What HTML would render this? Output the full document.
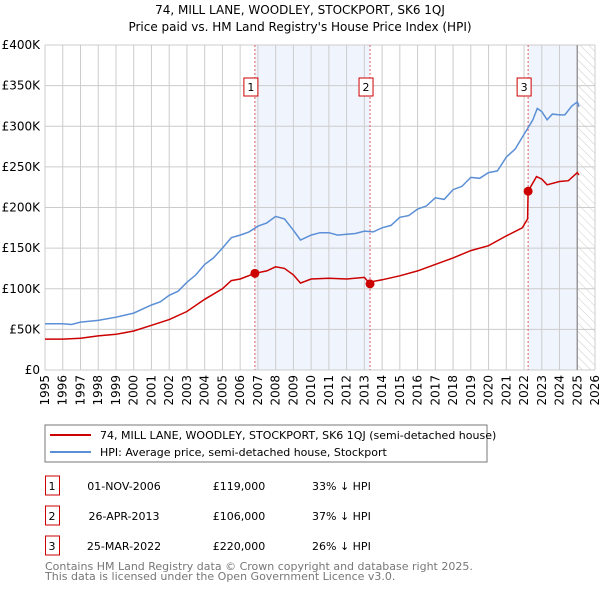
<!DOCTYPE html>
<html><head><meta charset="utf-8"><style>
body{margin:0;background:#fff;font-family:"DejaVu Sans","Liberation Sans",sans-serif;}
svg{display:block}
</style></head><body>
<svg id="c" width="600" height="590" xmlns="http://www.w3.org/2000/svg" font-family="DejaVu Sans, Liberation Sans, sans-serif">
<defs><pattern id="hatch" width="6" height="6" patternUnits="userSpaceOnUse" patternTransform="rotate(-45)"><line x1="0" y1="0" x2="0" y2="6" stroke="#ccc" stroke-width="1"/></pattern></defs>
<text x="300" y="14" text-anchor="middle" font-size="12">74, MILL LANE, WOODLEY, STOCKPORT, SK6 1QJ</text>
<text x="300" y="31" text-anchor="middle" font-size="12">Price paid vs. HM Land Registry's House Price Index (HPI)</text>
<g id="plot"></g>
<rect x="45" y="425" width="442" height="37" fill="#fff" stroke="#777"/>
<line x1="50" y1="435" x2="91" y2="435" stroke="#cc0000" stroke-width="2"/>
<text x="100" y="439" font-size="11">74, MILL LANE, WOODLEY, STOCKPORT, SK6 1QJ (semi-detached house)</text>
<line x1="50" y1="452" x2="91" y2="452" stroke="#5b8fd6" stroke-width="2"/>
<text x="100" y="456" font-size="11">HPI: Average price, semi-detached house, Stockport</text>
<g id="tbl" font-size="11"></g>
<text x="45" y="570" font-size="11" fill="#777">Contains HM Land Registry data © Crown copyright and database right 2025.</text>
<text x="45" y="580" font-size="11" fill="#777">This data is licensed under the Open Government Licence v3.0.</text>
</svg>
<script>
const hpiYears=[1995,1996,1996.5,1997,1998,1999,2000,2001,2001.5,2002,2002.5,2003,2003.5,2004,2004.5,2005,2005.5,2006,2006.5,2007,2007.5,2008,2008.5,2009,2009.4,2010,2010.5,2011,2011.5,2012,2012.5,2013,2013.5,2014,2014.5,2015,2015.5,2016,2016.5,2017,2017.5,2018,2018.5,2019,2019.5,2020,2020.5,2021,2021.5,2022,2022.5,2022.75,2023,2023.3,2023.6,2024,2024.3,2024.7,2025,2025.1];
const hpiValues=[57,57,56,59,61,65,70,80,84,92,97,108,117,130,138,150,163,166,170,177,181,189,186,172,160,166,169,169,166,167,168,171,170,175,178,188,190,198,202,212,210,222,226,237,236,243,245,262,272,290,308,322,318,308,315,314,314,325,330,324];
const propYears=[1995,1996,1997,1998,1999,2000,2001,2002,2003,2004,2005,2005.5,2006,2006.83,2007.5,2008,2008.5,2009,2009.4,2010,2011,2012,2013,2013.32,2013.5,2014,2015,2016,2017,2018,2019,2020,2021,2021.9,2022.2,2022.23,2022.7,2023,2023.3,2024,2024.5,2025,2025.1];
const propValues=[38,38,39,42,44,48,55,62,72,87,100,110,112,119,122,127,125,117,107,112,113,112,114,106,109,111,116,122,130,138,147,153,165,175,186,220,238,235,228,232,233,243,240];
const saleYears=[2006.83,2013.32,2022.23];
const saleValues=[119,106,220];
const saleLabels=["1","2","3"];
const saleDates=["01-NOV-2006","26-APR-2013","25-MAR-2022"];
const salePrices=["£119,000","£106,000","£220,000"];
const saleDiffs=["33% ↓ HPI","37% ↓ HPI","26% ↓ HPI"];
const yTicks=[0,50,100,150,200,250,300,350,400];
const yTickLabels=["£0","£50K","£100K","£150K","£200K","£250K","£300K","£350K","£400K"];
const xTicks=[1995,1996,1997,1998,1999,2000,2001,2002,2003,2004,2005,2006,2007,2008,2009,2010,2011,2012,2013,2014,2015,2016,2017,2018,2019,2020,2021,2022,2023,2024,2025,2026];

const NS="http://www.w3.org/2000/svg";
const L=45,R=595,T=45,B=370,X0=1995,X1=2026,YMAX=400;
const x=v=>L+(v-X0)/(X1-X0)*(R-L);
const y=v=>B-v/YMAX*(B-T);
const plot=document.getElementById('plot');
function mk(tag,attrs,parent){const e=document.createElementNS(NS,tag);for(const k in attrs)e.setAttribute(k,attrs[k]);(parent||plot).appendChild(e);return e;}

let r=mk('rect',{x:L,y:T,width:R-L,height:B-T,fill:'#fff'});


// shaded regions
const shadeEnds=[saleYears[1],2025];
[[saleYears[0],saleYears[1]],[saleYears[2],2025]].forEach((s,i)=>{
  const e=mk('rect',{x:x(s[0]),y:T,width:x(s[1])-x(s[0]),height:B-T,fill:'#f0f4fd'});
  
  
});
// hatch
let h=mk('rect',{x:x(2025),y:T,width:R-x(2025),height:B-T,fill:'url(#hatch)'});


// grid
xTicks.forEach(t=>{
  const g=mk('line',{x1:x(t),x2:x(t),y1:T,y2:B,stroke:'#ccc','stroke-width':1});
  
  
  const tx=mk('text',{x:0,y:0,'font-size':12,'text-anchor':'end',transform:`translate(${x(t)+4},${B+5}) rotate(-90)`});
  tx.textContent=t;
  
  
});
yTicks.forEach((t,i)=>{
  const g=mk('line',{x1:L,x2:R,y1:y(t),y2:y(t),stroke:'#ccc','stroke-width':1});
  
  
  const tx=mk('text',{x:L-5,y:y(t)+4,'font-size':12,'text-anchor':'end'});
  tx.textContent=yTickLabels[i];
  
  
});
let el=mk('line',{x1:x(2025),x2:x(2025),y1:T,y2:B,stroke:'#999','stroke-width':1.5});


// sale vlines and labels
saleYears.forEach((s,i)=>{
  const v=mk('line',{x1:x(s),x2:x(s),y1:T,y2:B,stroke:'#e06060','stroke-width':1,'stroke-dasharray':'2,2'});
  
  
  const b=mk('rect',{x:x(s)-11,y:78,width:14,height:18,fill:'#fff',stroke:'#cc0000'});
  
  
  const t=mk('text',{x:x(s)-4,y:91,'font-size':11,'text-anchor':'middle'});
  t.textContent=saleLabels[i];
  
  
});
function line(xs,vs,col,name){
  const d=xs.map((a,i)=>(i?'L':'M')+x(a).toFixed(1)+','+y(vs[i]).toFixed(1)).join('');
  const p=mk('path',{d:d,fill:'none',stroke:col,'stroke-width':1.5});
  
  
}
line(hpiYears,hpiValues,'#5b8fd6','hpi-line');
line(propYears,propValues,'#cc0000','property-line');
saleYears.forEach((s,i)=>{
  const c=mk('circle',{cx:x(s),cy:y(saleValues[i]),r:4.5,fill:'#cc0000'});
  
  
});
// table
const tbl=document.getElementById('tbl');
const rowY=[486,516,546];
saleLabels.forEach((lab,i)=>{
  const b=mk('rect',{x:45.5,y:rowY[i]-10,width:14,height:19,fill:'#fff',stroke:'#cc0000'},tbl);
  
  
  const cols=[[52,lab,'middle'],[124,saleDates[i],'middle'],[239,salePrices[i],'middle'],[312,saleDiffs[i],'start']];
  cols.forEach((c,j)=>{
    const t=mk('text',{x:c[0],y:rowY[i]+4,'text-anchor':c[2]},tbl);
    t.textContent=c[1];
    
    
  });
});
</script>
</body></html>
